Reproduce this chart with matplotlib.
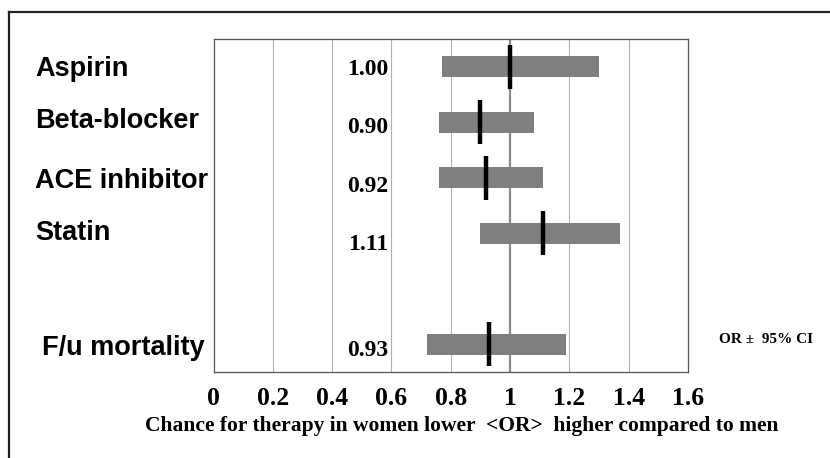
import matplotlib
matplotlib.use('Agg')
import matplotlib.pyplot as plt
from matplotlib.lines import Line2D
from matplotlib.transforms import blended_transform_factory
import numpy as np

# odds ratios (women vs men) with 95% confidence intervals
drugs = ['Aspirin', 'Beta-blocker', 'ACE inhibitor', 'Statin', 'F/u mortality']
rows = [0, 1, 2, 3, 5]
odds = [1.00, 0.90, 0.92, 1.11, 0.93]
ci_low = [0.77, 0.76, 0.76, 0.90, 0.72]
ci_high = [1.30, 1.08, 1.11, 1.37, 1.19]
odds_text = ['1.00', '0.90', '0.92', '1.11', '0.93']
xticks = [0, 0.2, 0.4, 0.6, 0.8, 1, 1.2, 1.4, 1.6]
xtick_labels = ['0', '0.2', '0.4', '0.6', '0.8', '1', '1.2', '1.4', '1.6']

# hand placed text offsets (fraction of a row)
name_dy = [0.16, 0.11, 0.18, 0.12, 0.19]
name_x = [35, 35, 35, 35, 42]
value_dy = [0.14, 0.19, 0.25, 0.31, 0.22]

sans = 'Liberation Sans'
serif = 'Liberation Serif'


def main():
    fig = plt.figure(figsize=(8.3, 4.58), dpi=100)
    ax = fig.add_axes([213.5 / 830, 86 / 458, (688 - 213.5) / 830, 333 / 458])

    rows_a = np.array(rows, dtype=float)
    low = np.array(ci_low)
    high = np.array(ci_high)

    ax.barh(rows_a, high - low, left=low, height=0.38, color='#7f7f7f',
            edgecolor='none', zorder=3)
    ax.vlines(odds, rows_a - 0.4, rows_a + 0.4, color='black', linewidth=3.2, zorder=4)

    ax.set_xlim(0, 1.6)
    ax.set_ylim(5.5, -0.5)
    ax.set_yticks([])
    ax.set_xticks(xticks)
    ax.set_xticklabels(xtick_labels, fontfamily=serif, fontweight='bold', fontsize=18.5)
    ax.tick_params(axis='x', length=0, pad=11)

    for x in xticks[1:-1]:
        if x == 1:
            ax.axvline(x, color='#8a8a8a', linewidth=1.6, zorder=2)
        else:
            ax.axvline(x, color='#b0b0b0', linewidth=0.8, zorder=2)
    for sp in ax.spines.values():
        sp.set_color('#555555')
        sp.set_linewidth(0.9)

    # odds ratio values printed inside the plot
    for r, t, dy in zip(rows, odds_text, value_dy):
        ax.text(0.588, r + dy, t, ha='right', va='baseline', fontfamily=serif,
                fontweight='bold', fontsize=17)

    # category names to the left of the axes
    trans = blended_transform_factory(fig.transFigure, ax.transData)
    for r, name, dy, nx in zip(rows, drugs, name_dy, name_x):
        ax.text(nx / 830, r + dy, name, transform=trans, ha='left', va='baseline',
                fontfamily=sans, fontweight='bold', fontsize=19.5, clip_on=False)

    fig.text(462 / 830, (458 - 431) / 458,
             'Chance for therapy in women lower  <OR>  higher compared to men',
             ha='center', va='baseline', fontfamily=serif, fontweight='bold', fontsize=15.5)
    fig.text(719 / 830, (458 - 343) / 458, 'OR \u00b1  95% CI', ha='left', va='baseline',
             fontfamily=serif, fontweight='bold', fontsize=11)

    # outer frame (runs off the right and bottom edges)
    fig.add_artist(Line2D([8.5 / 830, 1.0], [1 - 12 / 458, 1 - 12 / 458],
                          transform=fig.transFigure, color='#222222', linewidth=1.6))
    fig.add_artist(Line2D([8.5 / 830, 8.5 / 830], [0, 1 - 12 / 458],
                          transform=fig.transFigure, color='#222222', linewidth=1.6))

    fig.savefig('out.png', dpi=100)


if __name__ == '__main__':
    main()
